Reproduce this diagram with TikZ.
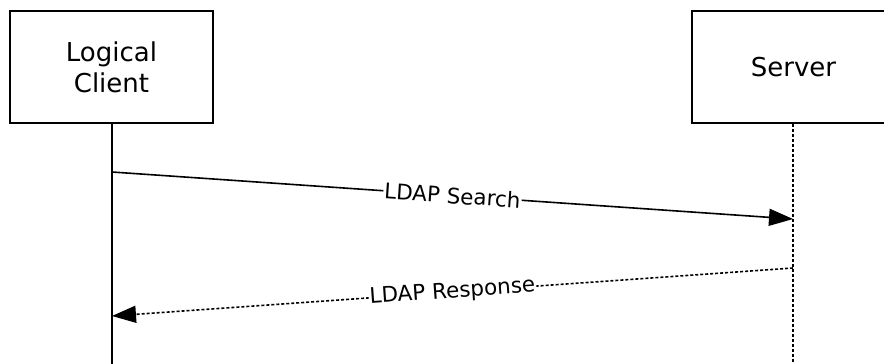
\documentclass[tikz,border=0pt]{standalone}
\usepackage{fontspec}
\setmainfont{DejaVu Sans}
\usetikzlibrary{arrows.meta}
\begin{document}
\begin{tikzpicture}[x=1pt,y=-1pt,
  actor/.style={draw,line width=1.8pt,minimum width=203pt,minimum height=112pt,inner sep=0pt,align=center,font=\fontsize{26}{31}\selectfont},
  life/.style={line width=1.8pt},
  lifedot/.style={line width=1.8pt,dash pattern=on 3pt off 2pt},
  msg/.style={line width=1.6pt,-{Triangle[length=24pt,width=17pt]}},
  msgdot/.style={line width=1.6pt,dash pattern=on 3pt off 2pt,-{Triangle[length=24pt,width=17pt]}},
  lbl/.style={fill=white,inner sep=1pt,sloped,font=\fontsize{21.5}{25}\selectfont}]
\useasboundingbox (0,0) rectangle (884,364);
\begin{scope}
\clip (0,0) rectangle (884,364);
\node[actor] (client) at (111.5,67) {Logical\\Client};
\node[actor] (server) at (793.5,67) {Server};
\coordinate (cbot) at (112,364);
\coordinate (sbot) at (793,364);
\draw[life] (client.south -| cbot) -- (cbot);
\draw[lifedot] (server.south -| sbot) -- (sbot);
\coordinate (a1) at (112,172);
\coordinate (b1) at (793,219);
\coordinate (a2) at (793,268);
\coordinate (b2) at (112,316);
\draw[msg] (a1) -- node[lbl] (l1) {LDAP Search} (b1);
\draw[msgdot] (a2) -- node[lbl] (l2) {LDAP Response} (b2);
\end{scope}
\end{tikzpicture}
\end{document}
